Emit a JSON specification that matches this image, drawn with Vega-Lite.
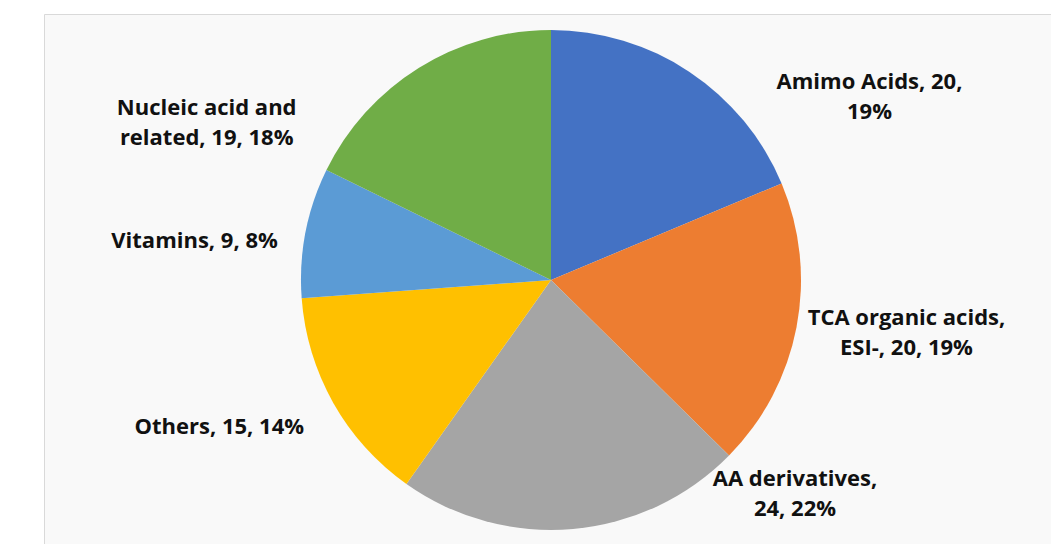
{
  "$schema": "https://vega.github.io/schema/vega-lite/v6.json",
  "width": 1014,
  "height": 532,
  "autosize": {"type": "none"},
  "padding": {"left": 44, "top": 14, "right": 0, "bottom": 0},
  "background": "white",
  "view": {"stroke": "#d9d9d9", "strokeWidth": 1, "fill": "#f9f9f9"},
  "config": {
    "text": {"font": "Open Sans", "fontWeight": "bold", "fontSize": 22, "color": "#111111", "lineBreak": "\n", "lineHeight": 30, "align": "center", "baseline": "middle"}
  },
  "data": {
    "values": [
      {"idx": 1, "category": "Amimo Acids", "value": 20, "label": "Amimo Acids, 20,\n19%"},
      {"idx": 2, "category": "TCA organic acids, ESI-", "value": 20, "label": "TCA organic acids,\nESI-, 20, 19%"},
      {"idx": 3, "category": "AA derivatives", "value": 24, "label": "AA derivatives,\n24, 22%"},
      {"idx": 4, "category": "Others", "value": 15, "label": "Others, 15, 14%"},
      {"idx": 5, "category": "Vitamins", "value": 9, "label": "Vitamins, 9, 8%"},
      {"idx": 6, "category": "Nucleic acid and related", "value": 19, "label": "Nucleic acid and\nrelated, 19, 18%"}
    ]
  },
  "layer": [
    {
      "mark": {"type": "arc", "outerRadius": 250, "stroke": null},
      "encoding": {
        "theta": {"field": "value", "type": "quantitative", "stack": true},
        "order": {"field": "idx", "type": "quantitative"},
        "color": {
          "field": "category",
          "type": "nominal",
          "legend": null,
          "scale": {
            "domain": ["Amimo Acids", "TCA organic acids, ESI-", "AA derivatives", "Others", "Vitamins", "Nucleic acid and related"],
            "range": ["#4472C4", "#ED7D31", "#A5A5A5", "#FFC000", "#5B9BD5", "#70AD47"]
          }
        }
      }
    },
    {
      "transform": [
        {"window": [{"op": "sum", "field": "value", "as": "cumEnd"}], "sort": [{"field": "idx"}]},
        {"calculate": "datum.cumEnd - datum.value / 2", "as": "mid"},
        {"filter": "datum.category === 'Amimo Acids'"}
      ],
      "mark": {"type": "text", "radius": 250, "dx": 180, "dy": 10},
      "encoding": {
        "theta": {"field": "mid", "type": "quantitative", "stack": null},
        "text": {"field": "label"}
      }
    },
    {
      "transform": [
        {"window": [{"op": "sum", "field": "value", "as": "cumEnd"}], "sort": [{"field": "idx"}]},
        {"calculate": "datum.cumEnd - datum.value / 2", "as": "mid"},
        {"filter": "datum.category === 'TCA organic acids, ESI-'"}
      ],
      "mark": {"type": "text", "radius": 250, "dx": 110, "dy": -9},
      "encoding": {
        "theta": {"field": "mid", "type": "quantitative", "stack": null},
        "text": {"field": "label"}
      }
    },
    {
      "transform": [
        {"window": [{"op": "sum", "field": "value", "as": "cumEnd"}], "sort": [{"field": "idx"}]},
        {"calculate": "datum.cumEnd - datum.value / 2", "as": "mid"},
        {"filter": "datum.category === 'AA derivatives'"}
      ],
      "mark": {"type": "text", "radius": 250, "dx": 222, "dy": -50},
      "encoding": {
        "theta": {"field": "mid", "type": "quantitative", "stack": null},
        "text": {"field": "label"}
      }
    },
    {
      "transform": [
        {"window": [{"op": "sum", "field": "value", "as": "cumEnd"}], "sort": [{"field": "idx"}]},
        {"calculate": "datum.cumEnd - datum.value / 2", "as": "mid"},
        {"filter": "datum.category === 'Others'"}
      ],
      "mark": {"type": "text", "radius": 250, "dx": -114, "dy": 24},
      "encoding": {
        "theta": {"field": "mid", "type": "quantitative", "stack": null},
        "text": {"field": "label"}
      }
    },
    {
      "transform": [
        {"window": [{"op": "sum", "field": "value", "as": "cumEnd"}], "sort": [{"field": "idx"}]},
        {"calculate": "datum.cumEnd - datum.value / 2", "as": "mid"},
        {"filter": "datum.category === 'Vitamins'"}
      ],
      "mark": {"type": "text", "radius": 250, "dx": -111, "dy": 8},
      "encoding": {
        "theta": {"field": "mid", "type": "quantitative", "stack": null},
        "text": {"field": "label"}
      }
    },
    {
      "transform": [
        {"window": [{"op": "sum", "field": "value", "as": "cumEnd"}], "sort": [{"field": "idx"}]},
        {"calculate": "datum.cumEnd - datum.value / 2", "as": "mid"},
        {"filter": "datum.category === 'Nucleic acid and related'"}
      ],
      "mark": {"type": "text", "radius": 250, "dx": -212, "dy": 40},
      "encoding": {
        "theta": {"field": "mid", "type": "quantitative", "stack": null},
        "text": {"field": "label"}
      }
    }
  ]
}
